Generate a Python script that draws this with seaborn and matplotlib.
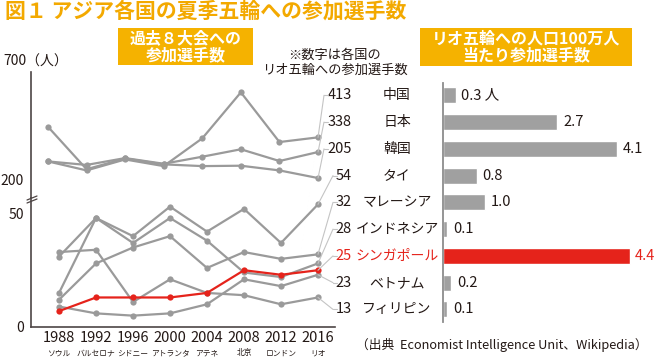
import pandas as pd
import seaborn as sns
import matplotlib.pyplot as plt
import matplotlib.transforms as mtransforms
from matplotlib.patches import Rectangle, ConnectionPatch
from matplotlib.lines import Line2D

years = [1988, 1992, 1996, 2000, 2004, 2008, 2012, 2016]
cities = ["ソウル", "バルセロナ", "シドニー", "アトランタ", "アテネ", "北京", "ロンドン", "リオ"]

countries = ["中国", "日本", "韓国", "タイ", "マレーシア", "インドネシア",
             "シンガポール", "ベトナム", "フィリピン"]
china = [290, 244, 300, 266, 408, 643, 389, 413]
japan = [290, 272, 307, 278, 314, 352, 292, 338]
korea = [467, 250, 305, 275, 266, 268, 244, 205]
thailand = [15, 48, 40, 53, 42, 52, 37, 54]
malaysia = [12, 28, 35, 40, 26, 33, 30, 32]
indonesia = [31, 48, 37, 48, 38, 24, 22, 28]
singapore = [7, 13, 13, 13, 15, 25, 23, 25]
vietnam = [9, 6, 5, 6, 10, 21, 18, 23]
philippines = [33, 34, 11, 21, 15, 14, 10, 13]
per_million = [0.3, 2.7, 4.1, 0.8, 1.0, 0.1, 4.4, 0.2, 0.1]

series = [china, japan, korea, thailand, malaysia, indonesia, singapore, vietnam, philippines]

GRAY = "#9a9a9a"
RED = "#e5231b"
ORANGE = "#f3a900"
BOX = "#f5b200"
INK = "#231815"

sns.set_style("white")
plt.rcParams["font.family"] = ["Noto Sans CJK JP", "DejaVu Sans"]

W, H = 660, 360
fig = plt.figure(figsize=(6.6, 3.6), dpi=100)


def rect(l, t, r, b):
    return [l / W, 1 - b / H, (r - l) / W, (b - t) / H]


rows = []
for name, vals in zip(countries, series):
    for y, v in zip(years, vals):
        rows.append({"year": y, "n": v, "country": name})
df = pd.DataFrame(rows)
big = countries[:3]
df_top = df[df["country"].isin(big)]
df_bot = df[~df["country"].isin(big)]
pal = {c: (RED if c == "シンガポール" else GRAY) for c in countries}

# broken axis: upper part (200-700), lower part (0-50)
ax_top = fig.add_axes(rect(31, 72, 335, 198))
ax_bot = fig.add_axes(rect(31, 198, 335, 327))

sns.lineplot(data=df_top, x="year", y="n", hue="country", hue_order=big,
             palette=pal, marker="o", markersize=4.5, markeredgewidth=0,
             linewidth=1.6, legend=False, ax=ax_top)
order_bot = [c for c in countries[3:] if c != "シンガポール"] + ["シンガポール"]
sns.lineplot(data=df_bot, x="year", y="n", hue="country", hue_order=order_bot,
             palette=pal, marker="o", markersize=4.5, markeredgewidth=0,
             linewidth=1.6, legend=False, ax=ax_bot)

ax_top.set_xlim(1986.24, 2017.76)
ax_top.set_ylim(103, 747)
ax_bot.set_xlim(1984.97, 2017.84)
ax_bot.set_ylim(0, 56.8)

for ax in (ax_top, ax_bot):
    for s in ("top", "right"):
        ax.spines[s].set_visible(False)
    ax.spines["left"].set_color("#4d4545")
    ax.spines["left"].set_linewidth(1.2)
    ax.set_xlabel("")
    ax.set_ylabel("")
    ax.tick_params(length=0, labelsize=10, colors=INK, pad=5)
    ax.patch.set_alpha(0)
ax_top.spines["bottom"].set_visible(False)
ax_top.set_xticks([])
ax_top.set_yticks([200])
ax_bot.spines["bottom"].set_color("#4d4545")
ax_bot.spines["bottom"].set_linewidth(1.2)
ax_bot.set_yticks([0, 50])
ax_bot.set_xticks(years)
ax_bot.set_xticklabels([str(y) for y in years], fontsize=10.5)
ax_bot.tick_params(axis="x", pad=3)
for y, c in zip(years, cities):
    ax_bot.annotate(c, (y, 0), xycoords="data", xytext=(0, -19),
                    textcoords="offset points", ha="center", va="center",
                    fontsize=5.6, color=INK)

# break marks
for dy in (0, 3):
    fig.add_artist(Line2D([27 / W, 37 / W], [1 - (200 + dy) / H, 1 - (196 + dy) / H],
                          color="#4d4545", lw=0.9, transform=fig.transFigure))

fig.text(3 / W, 1 - 62 / H, "700（人）", fontsize=10, color=INK, va="center", ha="left")

# right-hand bar chart
ax_bar = fig.add_axes(rect(443, 83, 660, 322))
bar_df = pd.DataFrame({"country": countries, "v": per_million})
bar_colors = [RED if c == "シンガポール" else "#a0a0a0" for c in countries]
sns.barplot(data=bar_df, x="v", y="country", hue="country", palette=bar_colors,
            width=0.6, orient="h", legend=False, ax=ax_bar, saturation=1)
ax_bar.set_xlim(0, 5.118)
ax_bar.set_ylim(8.47, -0.46)
for s in ("top", "right", "bottom"):
    ax_bar.spines[s].set_visible(False)
ax_bar.spines["left"].set_color("#8c8c8c")
ax_bar.spines["left"].set_linewidth(1.3)
ax_bar.set_xticks([])
ax_bar.set_yticks([])
ax_bar.set_xlabel("")
ax_bar.set_ylabel("")
ax_bar.patch.set_alpha(0)

for i, (c, v) in enumerate(zip(countries, per_million)):
    col = RED if c == "シンガポール" else INK
    txt = f"{v:.1f} 人" if i == 0 else f"{v:.1f}"
    ax_bar.annotate(txt, (v, i), xytext=(4, 0), textcoords="offset points",
                    ha="left", va="center", fontsize=10.5, color=col)

# country names and Rio athlete counts, with leader lines from the 2016 points
blend = mtransforms.blended_transform_factory(fig.transFigure, ax_bar.transData)
for i, (c, vals) in enumerate(zip(countries, series)):
    col = RED if c == "シンガポール" else INK
    last = vals[-1]
    src_ax = ax_top if c in big else ax_bot
    ax_bar.text(397 / W, i, c, transform=blend, ha="center", va="center",
                fontsize=10, color=col, clip_on=False)
    ax_bar.text(352 / W, i, str(last), transform=blend, ha="right", va="center",
                fontsize=10.5, color=col, clip_on=False)
    cx = 324 if last >= 100 else 333
    con = ConnectionPatch(xyA=(years[-1], last), coordsA=src_ax.transData,
                          xyB=(cx / W, i), coordsB=blend,
                          color="#c4c4c4", lw=0.8)
    fig.add_artist(con)
    fig.add_artist(Line2D([cx / W, (cx + 4) / W], [i, i], transform=blend,
                          color="#c4c4c4", lw=0.8))

# title, headers, notes
fig.text(5 / W, 1 - 11 / H, "図１ アジア各国の夏季五輪への参加選手数",
         fontsize=15, fontweight="bold", color=ORANGE, ha="left", va="center")
fig.add_artist(Rectangle((118 / W, 1 - 65 / H), 135 / W, 37 / H,
                         transform=fig.transFigure, color=BOX, lw=0))
fig.text(185.5 / W, 1 - 46.5 / H, "過去８大会への\n参加選手数", fontsize=11.5,
         fontweight="bold", color="white", ha="center", va="center", linespacing=1.1)
fig.add_artist(Rectangle((420 / W, 1 - 66 / H), 212 / W, 38 / H,
                         transform=fig.transFigure, color=BOX, lw=0))
fig.text(526 / W, 1 - 47 / H, "リオ五輪への人口100万人\n当たり参加選手数", fontsize=11.5,
         fontweight="bold", color="white", ha="center", va="center", linespacing=1.1)
fig.text(335 / W, 1 - 63 / H, "※数字は各国の\nリオ五輪への参加選手数", fontsize=9.5,
         color=INK, ha="center", va="center", linespacing=1.15)
fig.text(356 / W, 1 - 345 / H, "（出典  Economist Intelligence Unit、Wikipedia）",
         fontsize=9.2, color=INK, ha="left", va="center")

fig.savefig("out.png", dpi=100)
